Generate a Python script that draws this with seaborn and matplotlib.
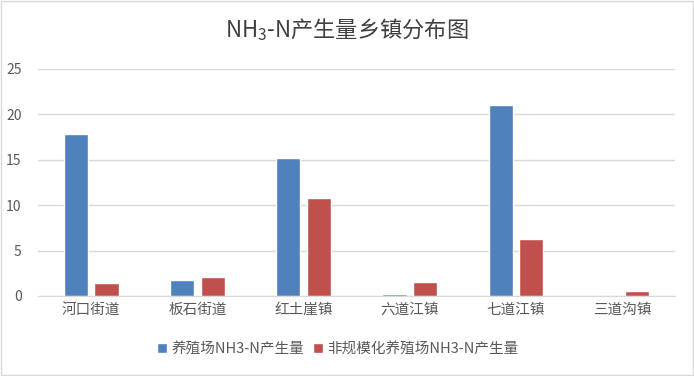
import seaborn as sns
import pandas as pd
import matplotlib.pyplot as plt
from matplotlib.patches import Rectangle

towns = ['河口街道', '板石街道', '红土崖镇', '六道江镇', '七道江镇', '三道沟镇']
farm = [17.87, 1.79, 15.23, 0.22, 21.07, 0.0]
small_farm = [1.46, 2.12, 10.83, 1.57, 6.31, 0.58]
series = ['养殖场NH3-N产生量', '非规模化养殖场NH3-N产生量']

d = pd.DataFrame({
    'town': towns * 2,
    'value': farm + small_farm,
    'series': [series[0]] * len(towns) + [series[1]] * len(towns),
})

sns.set_style('white')
plt.rcParams['font.family'] = ['Noto Sans CJK SC', 'DejaVu Sans']
plt.rcParams['mathtext.fontset'] = 'custom'
plt.rcParams['mathtext.rm'] = 'Noto Sans CJK SC'

fig = plt.figure(figsize=(6.94, 3.76), dpi=100)
ax = fig.add_axes([0.055, 0.2128, 0.918, 0.6037])

sns.barplot(data=d, x='town', y='value', hue='series', ax=ax,
            palette=['#4F81BD', '#C0504D'], width=0.575, gap=0.21,
            saturation=1)

ax.set_ylim(0, 25)
ax.set_yticks([0, 5, 10, 15, 20, 25])
ax.yaxis.grid(True, color='#D9D9D9', linewidth=1)
ax.set_axisbelow(True)
for s in ['top', 'right', 'left']:
    ax.spines[s].set_visible(False)
ax.spines['bottom'].set_color('#D9D9D9')
ax.tick_params(axis='x', length=0, colors='#595959', labelsize=10.5, pad=5)
ax.tick_params(axis='y', length=0, colors='#595959', labelsize=10, pad=12)
ax.set_xlabel('')
ax.set_ylabel('')

ax.legend(loc='upper center', bbox_to_anchor=(0.47, -0.145), ncol=2,
          frameon=False, fontsize=10.5, handlelength=0.7, handleheight=0.7,
          handletextpad=0.3, columnspacing=0.6, labelcolor='#595959')

fig.text(0.5, 0.922, r'NH$_3$-N产生量乡镇分布图', ha='center', va='center',
         fontsize=16, color='#404040')

fig.add_artist(Rectangle((0.001, 0.002), 0.997, 0.995, transform=fig.transFigure,
                         fill=False, edgecolor='#D9D9D9', linewidth=1))

plt.savefig('out.png', dpi=100)
